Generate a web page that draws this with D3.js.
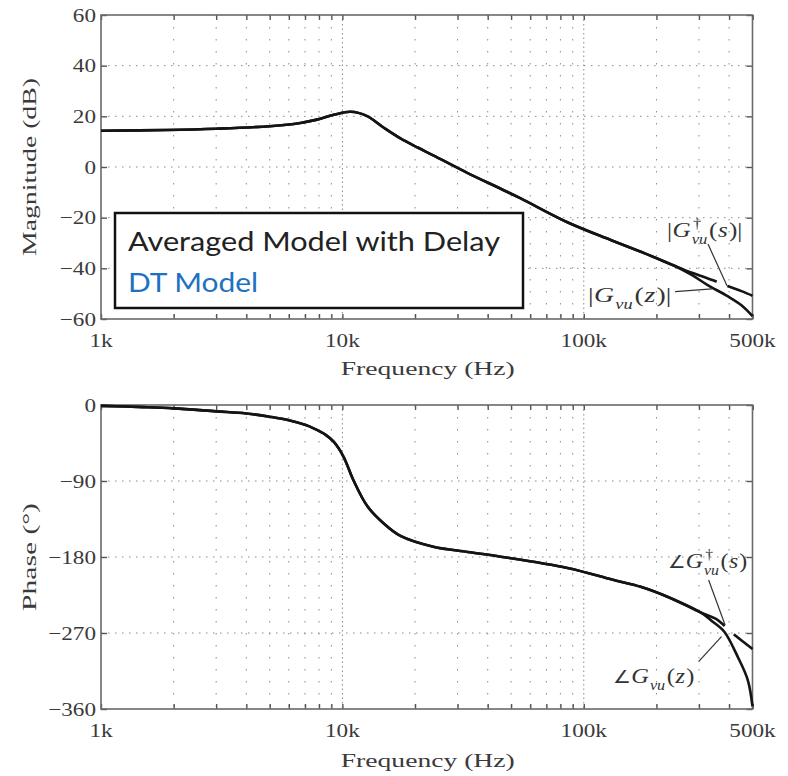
<!DOCTYPE html>
<html><head><meta charset="utf-8">
<script src="https://cdn.jsdelivr.net/npm/d3@7"></script>
<style>body{margin:0;background:#fff}svg{display:block}</style>
</head><body>
<svg id="c" width="788" height="776"></svg>
<script>
// ---------- data ----------
const magFreq   = [1000,1870,3000,5000,6700,7850,9200,10800,12600,14800,17400,20500,23900,32900,45300,54800,85500,130000,180000,236000];
const magCommon = [14.3,14.6,15.1,16.1,17.4,18.7,20.6,21.8,20.2,15.6,11.3,7.7,4.5,-2.3,-8.6,-12.4,-21.8,-28.9,-34.2,-38.9];
const magSTailFreq = [269000,300000,354000,394000,450000,500000];
const magSTail     = [-41.1,-42.7,-45.2,-47.0,-49.0,-50.8];
const magZTailFreq = [280000,326000,394000,450000,500000];
const magZTail     = [-42.6,-46.6,-51.0,-54.6,-58.9];

const phFreq   = [1000,1500,2000,3000,4000,5000,6000,7000,7600,8500,9200,10100,11100,12700,14800,17400,23800,33000,45300,85600,132000,172000,222000,305000];
const phCommon = [-1,-2.5,-4,-7.5,-10,-13.9,-18,-23.5,-27.6,-35,-43.5,-61,-88.8,-120,-140,-155,-167.8,-174,-179.6,-193,-207,-215.2,-227,-245.7];
const phSTailFreq = [353000,388000,427000,470000,500000];
const phSTail     = [-253.4,-262.9,-273.6,-283,-289];
const phZTailFreq = [340000,382000,434000,478000,500000];
const phZTail     = [-256,-268.5,-298,-325.7,-357];

const xTickValues = [1000,10000,100000,500000];
const xTickLabels = ["1k","10k","100k","500k"];
const magTicks = [60,40,20,0,-20,-40,-60];
const phaseTicks = [0,-90,-180,-270,-360];
const legendItems = ["Averaged Model with Delay","DT Model"];
const legendColors = ["#222222","#2071c1"];

// ---------- scales ----------
const svg = d3.select("#c");
const x = d3.scaleLog().domain([1000,500000]).range([101,752.5]);
const yMag = d3.scaleLinear().domain([-60,60]).range([319,15]);
const yPh  = d3.scaleLinear().domain([-360,0]).range([709,405]);

const minorFreqs = [];
[1000,10000,100000].forEach(d=>{for(let m=1;m<10;m++){const v=d*m; if(v<=500000) minorFreqs.push(v);}});
minorFreqs.push(500000);

const SERIF = "'Liberation Serif', 'Times New Roman', serif";
const TXT = "#3a3a3a";

function fmt(v){ return v<0 ? "\u2212"+Math.abs(v) : String(v); }

function panel(y, yTicks, xLabelBase, title, titleBase, yTitle, yTitleLen){
  const [y0,y1] = y.range(); // bottom, top
  const [x0,x1] = x.range();
  const g = svg.append("g");
  // grid
  const grid = g.append("g");
  grid.selectAll(".vg").data(minorFreqs.filter(f=>f>1000 && f<500000)).join("line")
    .attr("x1",d=>x(d)).attr("x2",d=>x(d)).attr("y1",y1).attr("y2",y0)
    .attr("stroke","#8a8a8a").attr("stroke-width",1)
    .attr("stroke-dasharray",d=>(d===10000||d===100000)?"1.5,3":"1.5,10.5");
  grid.selectAll(".hg").data(yTicks.slice(1,-1)).join("line")
    .attr("x1",x0).attr("x2",x1).attr("y1",d=>y(d)).attr("y2",d=>y(d))
    .attr("stroke","#8a8a8a").attr("stroke-width",1).attr("stroke-dasharray","1.5,5.5");
  // axes ticks (inward)
  const tickCol = "#555";
  const ax = [
    g.append("g").attr("transform",`translate(${x0},0)`).call(d3.axisLeft(y).tickValues(yTicks).tickSize(-6).tickFormat("")),
    g.append("g").attr("transform",`translate(${x1},0)`).call(d3.axisRight(y).tickValues(yTicks).tickSize(-6).tickFormat("")),
    g.append("g").attr("transform",`translate(0,${y0})`).call(d3.axisBottom(x).tickValues(minorFreqs).tickSize(-5).tickFormat("")),
    g.append("g").attr("transform",`translate(0,${y1})`).call(d3.axisTop(x).tickValues(minorFreqs).tickSize(-5).tickFormat(""))
  ];
  ax.forEach(a=>{a.select(".domain").remove(); a.selectAll("line").attr("stroke",tickCol).attr("stroke-width",1.4);});
  // frame
  g.append("rect").attr("x",x0).attr("y",y1).attr("width",x1-x0).attr("height",y0-y1)
    .attr("fill","none").attr("stroke","#6a6a6a").attr("stroke-width",1.6);
  // y tick labels
  yTicks.forEach(v=>{
    g.append("g").attr("transform",`translate(96,${y(v)+6.5}) scale(1.22,1)`)
      .append("text").attr("text-anchor","end").attr("font-family",SERIF).attr("font-size",19)
      .attr("fill",TXT).text(fmt(v));
  });
  // x tick labels
  xTickValues.forEach((v,i)=>{
    g.append("g").attr("transform",`translate(${x(v)},${xLabelBase}) scale(1.22,1)`)
      .append("text").attr("text-anchor","middle").attr("font-family",SERIF).attr("font-size",19)
      .attr("fill",TXT).text(xTickLabels[i]);
  });
  // x title
  g.append("text").attr("x",(x0+x1)/2 - 86).attr("y",titleBase).attr("font-family",SERIF).attr("font-size",19)
    .attr("fill",TXT).attr("textLength",174).attr("lengthAdjust","spacingAndGlyphs").text(title);
  // y title
  const cy = (y0+y1)/2;
  g.append("text").attr("transform",`translate(36,${cy}) rotate(-90)`).attr("x",-yTitleLen/2).attr("y",0)
    .attr("font-family",SERIF).attr("font-size",19).attr("fill",TXT)
    .attr("textLength",yTitleLen).attr("lengthAdjust","spacingAndGlyphs").text(yTitle);
}

panel(yMag, magTicks, 346.5, "Frequency (Hz)", 375, "Magnitude (dB)", 178);
panel(yPh, phaseTicks, 736.5, "Frequency (Hz)", 767, "Phase (\u00B0)", 108);

// ---------- curves ----------
function drawPair(y, freq, common, sF, sV, zF, zV, gapX){
  const zPts = freq.map((f,i)=>[f,common[i]]).concat(zF.map((f,i)=>[f,zV[i]]));
  const sPts = freq.map((f,i)=>[f,common[i]]).concat(sF.map((f,i)=>[f,sV[i]]));
  const line = d3.line().x(d=>x(d[0])).y(d=>y(d[1])).curve(d3.curveCatmullRom.alpha(0.5));
  svg.append("path").attr("d",line(zPts)).attr("fill","none").attr("stroke","#141414").attr("stroke-width",2.6).attr("stroke-linejoin","round");
  const sp = svg.append("path").attr("d",line(sPts)).attr("fill","none").attr("stroke","#141414").attr("stroke-width",2.6).attr("stroke-linejoin","round");
  const node = sp.node(), total = node.getTotalLength();
  function lenAt(px){ let lo=0,hi=total; for(let k=0;k<40;k++){const m=(lo+hi)/2; if(node.getPointAtLength(m).x<px) lo=m; else hi=m;} return lo; }
  const a = lenAt(gapX[0]), b = lenAt(gapX[1]);
  sp.attr("stroke-dasharray",`${a},${b-a},${total}`);
}
drawPair(yMag, magFreq, magCommon, magSTailFreq, magSTail, magZTailFreq, magZTail, [x(355000), x(393000)]);
drawPair(yPh, phFreq, phCommon, phSTailFreq, phSTail, phZTailFreq, phZTail, [x(383000), x(418000)]);

// ---------- annotations ----------
function mathLabel(pieces, xLeft, baseline, targetW, fs){
  const g = svg.append("g").attr("font-family",SERIF).attr("fill","#333");
  let cx = 0;
  pieces.forEach(p=>{
    if(p.sub!==undefined){
      const s1 = g.append("text").attr("x",cx).attr("y",fs*0.3).attr("font-size",fs*0.66).attr("font-style","italic").text(p.sub);
      let w = s1.node().getComputedTextLength();
      if(p.sup){ const s2 = g.append("text").attr("x",cx+1).attr("y",-fs*0.42).attr("font-size",fs*0.66).text(p.sup); w=Math.max(w,s2.node().getComputedTextLength()+1); }
      cx += w+1.5;
    } else {
      const sz = fs*(p.scale||1);
      const t = g.append("text").attr("x",cx).attr("y",0).attr("font-size",sz).attr("font-style",p.it?"italic":"normal").text(p.t);
      cx += t.node().getComputedTextLength() + (p.it?1:0.5);
    }
  });
  g.attr("transform",`translate(${xLeft},${baseline}) scale(${targetW/cx},1)`);
}
mathLabel([{t:"|"},{t:"G",it:true},{sub:"vu",sup:"\u2020"},{t:"("},{t:"s",it:true},{t:")|"}], x(221000), yMag(-27.6), 76, 22);
mathLabel([{t:"|"},{t:"G",it:true},{sub:"vu"},{t:"("},{t:"z",it:true},{t:")|"}], x(104000), yMag(-53.3), 84, 22);
mathLabel([{t:"\u2220",scale:0.8},{t:"G",it:true},{sub:"vu",sup:"\u2020"},{t:"("},{t:"s",it:true},{t:")"}], x(223000), yPh(-193), 80, 22);
mathLabel([{t:"\u2220",scale:0.8},{t:"G",it:true},{sub:"vu"},{t:"("},{t:"z",it:true},{t:")"}], x(132000), yPh(-329.2), 82, 22);

const leaders = [
  [yMag, 327000,-30.4, 392000,-46.9],
  [yMag, 239000,-49.2, 340000,-48.1],
  [yPh, 329000,-207.2, 385000,-260.5],
  [yPh, 299000,-304, 372000,-274.4]
];
leaders.forEach(([y,f1,v1,f2,v2])=>{
  svg.append("line").attr("x1",x(f1)).attr("y1",y(v1)).attr("x2",x(f2)).attr("y2",y(v2))
    .attr("stroke","#333").attr("stroke-width",1.2);
});

// ---------- legend box ----------
const lg = svg.append("g");
lg.append("rect").attr("x",115).attr("y",213).attr("width",408).attr("height",95)
  .attr("fill","#fff").attr("stroke","#111").attr("stroke-width",2.5);
const legendLens = [372,130];
legendItems.forEach((t,i)=>{
  lg.append("text").attr("x",128).attr("y",250.5+i*41).attr("font-family","Lato, 'Open Sans', sans-serif")
    .attr("font-size",27.5).attr("fill",legendColors[i])
    .attr("textLength",legendLens[i]).attr("lengthAdjust","spacingAndGlyphs").text(t);
});
</script>
</body></html>
